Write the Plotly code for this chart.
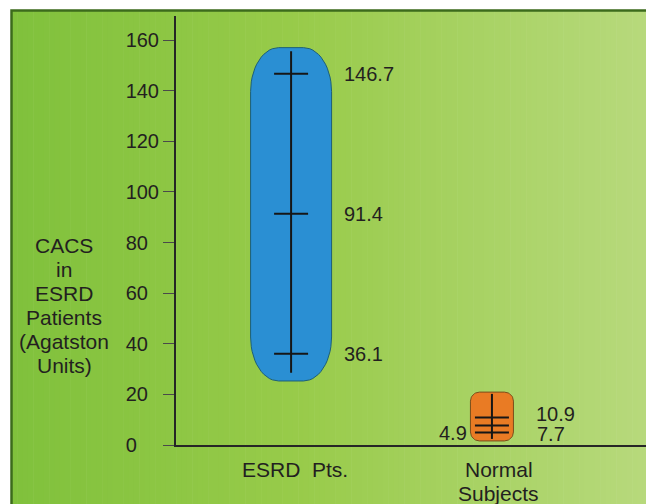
import math
import plotly.graph_objects as go

# ---------------- data ----------------
group_labels = [["ESRD\u00a0\u00a0Pts."], ["Normal", "Subjects"]]
group_pos = [1, 2]
means = [91.4, 7.7]
upper = [146.7, 10.9]
lower = [36.1, 4.9]
y_ticks = [0, 20, 40, 60, 80, 100, 120, 140, 160]
y_title_lines = ["CACS", "in", "ESRD", "Patients", "(Agatston", "Units)"]

# ---------------- style / layout ----------------
W, H = 646, 504
OFF = 0  # body margin removed by post_script
L, T = 176 - OFF, 16 - OFF
B = H - (445 - OFF)
R = 0
PW, PH = W - L - R, H - T - B
XMIN, XMAX = 0.427, 2.767
YMAX = 169.5
XU = PW / (XMAX - XMIN)   # px per x unit
YU = PH / YMAX            # px per y unit
FONT = "Liberation Sans, Arial, sans-serif"
TXT = "#231f20"

styles = [
    dict(fill="#2a8fd3", line="#1d5f78", hw=40.5, pad_top=10.3, pad_bot=10.8,
         rx=28, ry=44, wpad_top=8.9, wpad_bot=7.6),
    dict(fill="#e97b24", line="#7a4e1c", hw=21.5, pad_top=10.0, pad_bot=3.3,
         rx=9, ry=9, wpad_top=9.3, wpad_bot=2.5),
]
tick_hw = 17  # px


def paper_x(sx):
    """screen px -> paper x"""
    return (sx - OFF - L) / PW


def paper_y(sy):
    """screen px -> paper y"""
    return (H - B - (sy - OFF)) / PH


def rounded_rect(cx, hw, y0, y1, rx, ry, n=14):
    xs, ys = [], []
    corners = [
        (cx + hw - rx, y1 - ry, 0, 90),
        (cx - hw + rx, y1 - ry, 90, 180),
        (cx - hw + rx, y0 + ry, 180, 270),
        (cx + hw - rx, y0 + ry, 270, 360),
    ]
    for ccx, ccy, a0, a1 in corners:
        for i in range(n + 1):
            a = math.radians(a0 + (a1 - a0) * i / n)
            xs.append(ccx + rx * math.cos(a))
            ys.append(ccy + ry * math.sin(a))
    xs.append(xs[0])
    ys.append(ys[0])
    return xs, ys


fig = go.Figure()

shapes = []
# gradient background strips
stops = [(0.0, (128, 193, 60)), (0.45, (152, 203, 74)), (1.0, (183, 217, 124))]


def grad(t):
    for (t0, c0), (t1, c1) in zip(stops[:-1], stops[1:]):
        if t <= t1:
            f = (t - t0) / (t1 - t0)
            return "rgb(%d,%d,%d)" % tuple(round(a + (b - a) * f) for a, b in zip(c0, c1))
    return "rgb(%d,%d,%d)" % stops[-1][1]


x_start, x_end = 12, W + 2
N = 120
step = (x_end - x_start) / N
for i in range(N):
    a = x_start + i * step
    shapes.append(dict(type="rect", xref="paper", yref="paper", layer="below",
                       x0=paper_x(a), x1=paper_x(a + step + 0.6),
                       y0=paper_y(H + 10), y1=paper_y(11),
                       line=dict(width=0), fillcolor=grad(i / (N - 1))))
# dark green frame
shapes.append(dict(type="rect", xref="paper", yref="paper", layer="below",
                   x0=paper_x(11.5), x1=paper_x(W + 30), y0=paper_y(H + 30), y1=paper_y(10.5),
                   line=dict(color="#3c6b1c", width=2.5), fillcolor="rgba(0,0,0,0)"))

# boxes
for gx, m, up, lo, st in zip(group_pos, means, upper, lower, styles):
    bx, by = rounded_rect(gx, st["hw"] / XU, lo - st["pad_bot"], up + st["pad_top"],
                          st["rx"] / XU, st["ry"] / YU)
    fig.add_trace(go.Scatter(x=bx, y=by, mode="lines", fill="toself",
                             fillcolor=st["fill"], line=dict(color=st["line"], width=1),
                             hoverinfo="skip", showlegend=False))
    # whisker
    th = tick_hw / XU
    wx = [gx, gx, None, gx - th, gx + th, None, gx - th, gx + th, None, gx - th, gx + th]
    wy = [lo - st["wpad_bot"], up + st["wpad_top"], None, up, up, None, m, m, None, lo, lo]
    fig.add_trace(go.Scatter(x=wx, y=wy, mode="lines",
                             line=dict(color="#161616", width=2),
                             hoverinfo="skip", showlegend=False))

annotations = []
# value labels
label_specs = [
    # (group index, value, side, xshift px, yshift px)
    (0, upper[0], "left", 51, 0),
    (0, means[0], "left", 51, 0),
    (0, lower[0], "left", 51, 0),
    (1, upper[1], "left", 42, 3.5),
    (1, means[1], "left", 43, -8.5),
    (1, lower[1], "right", -23, -0.5),
]
for gi, v, side, xs_, ys_ in label_specs:
    annotations.append(dict(x=group_pos[gi], y=v, xref="x", yref="y", text=f"{v}",
                            showarrow=False, xanchor=side, yanchor="middle",
                            xshift=xs_, yshift=ys_,
                            font=dict(family=FONT, size=20, color=TXT)))

# category labels
cat_shift = [4, 7]
for gx, lines, xs_ in zip(group_pos, group_labels, cat_shift):
    for i, ln in enumerate(lines):
        annotations.append(dict(x=gx, y=paper_y(469 + 24 * i), xref="x", yref="paper",
                                text=ln, showarrow=False, xanchor="center", yanchor="middle",
                                xshift=xs_, font=dict(family=FONT, size=21, color=TXT)))

# y-axis title (stacked lines)
for i, ln in enumerate(y_title_lines):
    annotations.append(dict(x=paper_x(64), y=paper_y(245 + 24 * i), xref="paper", yref="paper",
                            text=ln, showarrow=False, xanchor="center", yanchor="middle",
                            font=dict(family=FONT, size=21, color=TXT)))

maxlen = max(len(str(v)) for v in y_ticks)
tick_text = [str(v) + "\u00a0\u00a0" * (maxlen - len(str(v))) for v in y_ticks]

fig.update_layout(
    width=W, height=H,
    margin=dict(l=L, r=R, t=T, b=B, pad=0),
    paper_bgcolor="white", plot_bgcolor="rgba(0,0,0,0)",
    shapes=shapes, annotations=annotations, showlegend=False,
    xaxis=dict(range=[XMIN, XMAX], showgrid=False, zeroline=False, showticklabels=False,
               ticks="", showline=True, linecolor="#262626", linewidth=2, fixedrange=True),
    yaxis=dict(range=[0, YMAX], showgrid=False, zeroline=False, showline=True,
               linecolor="#262626", linewidth=2, ticks="outside", ticklen=11,
               tickwidth=1.2, tickcolor="#4a4a4a", tickvals=y_ticks, ticktext=tick_text,
               tickfont=dict(family=FONT, size=20, color=TXT), fixedrange=True),
)

fig.write_html(
    "out.html",
    config={"displayModeBar": False},
    post_script="document.body.style.margin='0';document.body.style.overflow='hidden';",
)
